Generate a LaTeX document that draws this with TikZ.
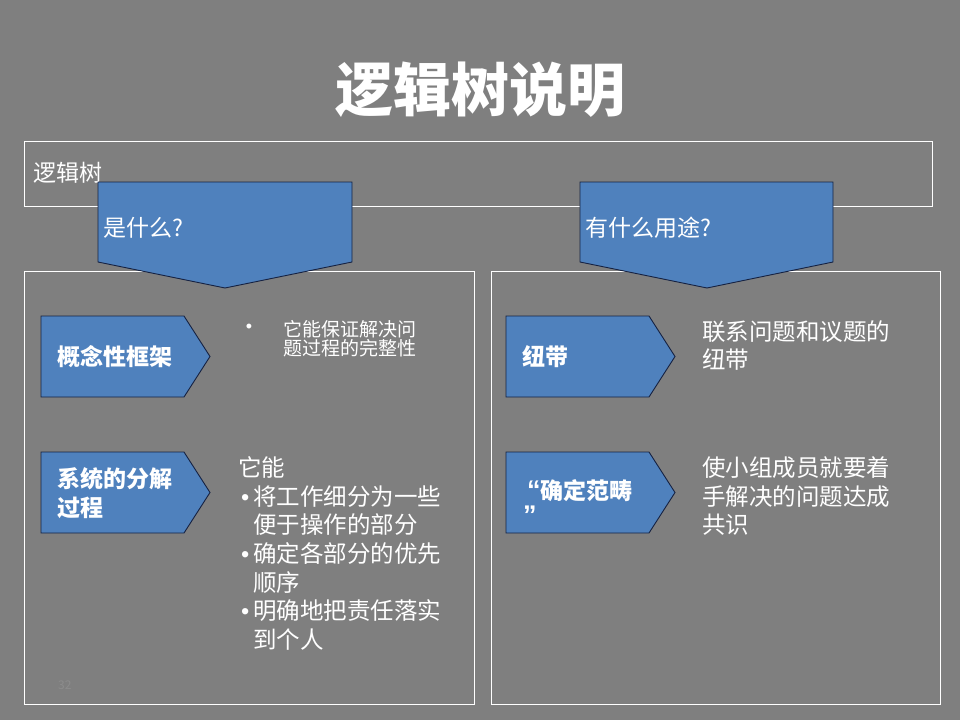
\documentclass[tikz,border=0pt]{standalone}
\usepackage{fontspec}
\setmainfont{Noto Sans CJK SC}
\newfontfamily\latinb{Liberation Sans}
\definecolor{bg}{RGB}{127,127,127}
\definecolor{boxblue}{RGB}{79,129,189}
\definecolor{boxedge}{RGB}{22,34,66}
\definecolor{pgnum}{RGB}{140,140,140}
\begin{document}
\begin{tikzpicture}[x=1pt,y=-1pt,
  frame/.style={draw=white, line width=1pt},
  bluebox/.style={fill=boxblue, draw=boxedge, line width=0.9pt, line join=miter},
  txt/.style={text=white, inner sep=0pt, anchor=west, align=left},
  headtxt/.style={txt, font=\fontsize{23}{27}\selectfont},
  boxtxt/.style={txt, font=\fontsize{23}{29}\selectfont\bfseries},
  bodytxt/.style={txt, font=\fontsize{23.5}{28.6}\selectfont}
]
\fill[bg] (0,0) rectangle (960,720);
\useasboundingbox (0,0) rectangle (960,720);

% title
\node[text=white, inner sep=0pt, font=\fontsize{58}{60}\selectfont\bfseries] (title) at (480,90) {逻辑树说明};

% frames
\draw[frame] (24,141) rectangle (932,206);
\draw[frame] (24,271) rectangle (474,704);
\draw[frame] (491,271) rectangle (940,704);

\node[headtxt] (lt) at (33,173) {逻辑树};

% down pentagons
\draw[bluebox] (98,182) -- (352,182) -- (352,262) -- (225,288) -- (98,262) -- cycle;
\draw[bluebox] (580,182) -- (833,182) -- (833,262) -- (707,288) -- (580,262) -- cycle;
\node[headtxt] (what) at (103,228) {是什么?};
\node[headtxt] (use) at (585,228) {有什么用途?};

% right-pointing pentagons
\draw[bluebox] (41,316) -- (184,316) -- (210,356.5) -- (184,397) -- (41,397) -- cycle;
\draw[bluebox] (41,452) -- (184,452) -- (210,492.5) -- (184,533) -- (41,533) -- cycle;
\draw[bluebox] (506,316) -- (649,316) -- (675,356.5) -- (649,397) -- (506,397) -- cycle;
\draw[bluebox] (506,452) -- (649,452) -- (675,492.5) -- (649,533) -- (506,533) -- cycle;

\node[boxtxt] (k1) at (57,357) {概念性框架};
\node[boxtxt] (k2) at (57,493.5) {系统的分解\\过程};
\node[boxtxt] (k3) at (522,357) {纽带};
\node[boxtxt, font=\fontsize{23}{25}\selectfont\bfseries] (k4) at (523,502.5) {\hspace*{4pt}{\fontsize{27}{25}\selectfont\latinb\bfseries “}确定范畴\\{\fontsize{27}{25}\selectfont\latinb\bfseries ”}};

% descriptions
\node[text=white, inner sep=0pt, font=\fontsize{18}{18}\selectfont] (b1) at (249,328) {\latinb •};
\node[txt, font=\fontsize{19}{19.5}\selectfont] (d1) at (283,338.5) {它能保证解决问\\题过程的完整性};
\node[bodytxt] (d2) at (238,553.5) {它能\\
\makebox[15pt][l]{\hspace{3pt}\latinb •}将工作细分为一些\\
\hspace*{15pt}便于操作的部分\\
\makebox[15pt][l]{\hspace{3pt}\latinb •}确定各部分的优先\\
\hspace*{15pt}顺序\\
\makebox[15pt][l]{\hspace{3pt}\latinb •}明确地把责任落实\\
\hspace*{15pt}到个人};
\node[bodytxt, font=\fontsize{23.5}{28}\selectfont] (d3) at (702,346) {联系问题和议题的\\纽带};
\node[bodytxt, font=\fontsize{23.5}{28.5}\selectfont] (d4) at (702,496.5) {使小组成员就要着\\手解决的问题达成\\共识};

% page number
\node[inner sep=0pt, anchor=west, text=pgnum, font=\fontsize{12}{12}\selectfont] (pg) at (58,685) {32};
\end{tikzpicture}
\end{document}
